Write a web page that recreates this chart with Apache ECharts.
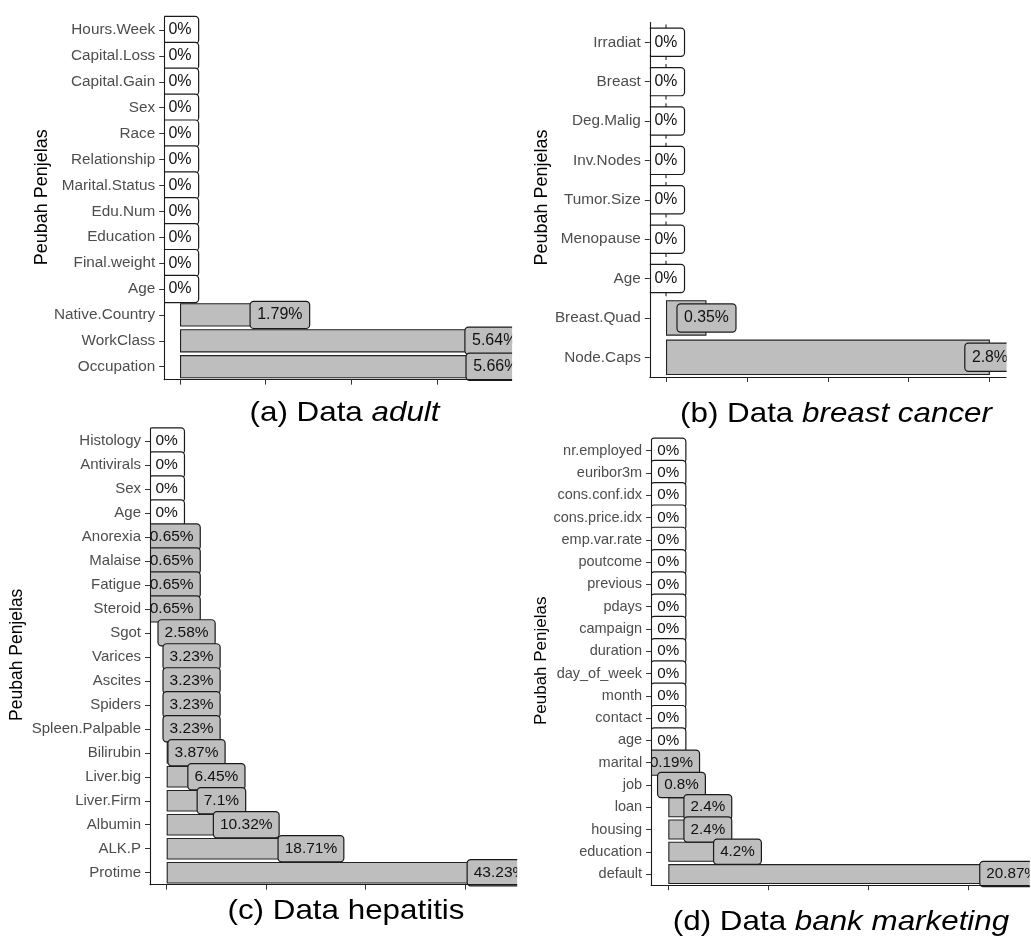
<!DOCTYPE html>
<html>
<head>
<meta charset="utf-8">
<script src="https://cdn.jsdelivr.net/npm/echarts@6/dist/echarts.min.js"></script>
<style>
  html, body { margin: 0; padding: 0; background: #ffffff; }
  #chart { width: 1031px; height: 943px; }
</style>
</head>
<body>
<div id="chart"></div>
<script>
// Missing-value percentages per explanatory variable, listed top to bottom.
const adultVars = ['Hours.Week', 'Capital.Loss', 'Capital.Gain', 'Sex', 'Race', 'Relationship',
  'Marital.Status', 'Edu.Num', 'Education', 'Final.weight', 'Age', 'Native.Country', 'WorkClass', 'Occupation'];
const adultMissing = [0, 0, 0, 0, 0, 0, 0, 0, 0, 0, 0, 1.79, 5.64, 5.66];
const adultTicks = [0, 1.536, 3.071, 4.607];

const breastVars = ['Irradiat', 'Breast', 'Deg.Malig', 'Inv.Nodes', 'Tumor.Size', 'Menopause', 'Age',
  'Breast.Quad', 'Node.Caps'];
const breastMissing = [0, 0, 0, 0, 0, 0, 0, 0.35, 2.8];
const breastTicks = [0, 0.699, 1.399, 2.098, 2.797];

const hepatitisVars = ['Histology', 'Antivirals', 'Sex', 'Age', 'Anorexia', 'Malaise', 'Fatigue', 'Steroid',
  'Sgot', 'Varices', 'Ascites', 'Spiders', 'Spleen.Palpable', 'Bilirubin', 'Liver.big', 'Liver.Firm',
  'Albumin', 'ALK.P', 'Protime'];
const hepatitisMissing = [0, 0, 0, 0, 0.65, 0.65, 0.65, 0.65, 2.58, 3.23, 3.23, 3.23, 3.23, 3.87, 6.45, 7.1,
  10.32, 18.71, 43.23];
const hepatitisTicks = [0, 12.903, 25.806, 38.71];

const bankVars = ['nr.employed', 'euribor3m', 'cons.conf.idx', 'cons.price.idx', 'emp.var.rate', 'poutcome',
  'previous', 'pdays', 'campaign', 'duration', 'day_of_week', 'month', 'contact', 'age', 'marital', 'job',
  'loan', 'housing', 'education', 'default'];
const bankMissing = [0, 0, 0, 0, 0, 0, 0, 0, 0, 0, 0, 0, 0, 0, 0.19, 0.8, 2.4, 2.4, 4.2, 20.87];
const bankTicks = [0, 6.07, 12.14, 18.21];

const FONT = '"Liberation Sans", Arial, Helvetica, sans-serif';
const INK = '#1a1a1a';
const BAR_FILL = '#bebebe';

// Layout of the four panels (grid box in px, fonts, label box padding, clip strips).
const panels = [
  { vars: adultVars, vals: adultMissing, ticks: adultTicks,
    grid: { left: 164.2, top: 17.05, width: 347.4, height: 362.6 },
    tickFont: 15.3, labelFont: 16, lineH: 17, pad: [5, 6.5, 4, 6.5],
    clipY: [0, 392], clipL: 150, clipR: 529,
    title: { x: 41.7, y: 197.3, size: 18 } },
  { vars: breastVars, vals: breastMissing, ticks: breastTicks,
    grid: { left: 649.8, top: 22.6, width: 356.3, height: 354.4 },
    tickFont: 15.3, labelFont: 15.8, lineH: 17, pad: [5, 6.5, 5, 6.5],
    clipY: [0, 392], clipL: 636, clipR: 1031,
    title: { x: 541.7, y: 197.5, size: 18 } },
  { vars: hepatitisVars, vals: hepatitisMissing, ticks: hepatitisTicks,
    grid: { left: 150, top: 429.0, width: 366.7, height: 455.7 },
    tickFont: 15, labelFont: 15.5, lineH: 17, pad: [4, 6, 4, 6],
    clipY: [420, 895], clipL: 138, clipR: 540,
    title: { x: 17.3, y: 654.8, size: 17.5 } },
  { vars: bankVars, vals: bankMissing, ticks: bankTicks,
    grid: { left: 651.1, top: 439.6, width: 378.2, height: 445.6 },
    tickFont: 14.5, labelFont: 15.2, lineH: 16, pad: [4, 6, 4, 6],
    clipY: [420, 895], clipL: 638, clipR: 1031,
    title: { x: 541.7, y: 660.8, size: 17 } }
];

const captions = [
  { text: '(a) Data {i|adult}', x: 344.5, y: 413.5 },
  { text: '(b) Data {i|breast cancer}', x: 836, y: 413.8 },
  { text: '(c) Data hepatitis', x: 346, y: 911 },
  { text: '(d) Data {i|bank marketing}', x: 841, y: 922 }
];

const grids = [], xAxes = [], yAxes = [], series = [], graphics = [];

panels.forEach((p, i) => {
  const top = Math.max(...p.vals);
  grids.push(Object.assign({ containLabel: false, outerBoundsMode: 'none' }, p.grid));

  xAxes.push({
    type: 'value', gridIndex: i, zlevel: 2,
    min: -0.05 * top, max: 1.05 * top,
    axisLine: { show: true, lineStyle: { color: INK, width: 1.1 } },
    axisTick: { show: true, length: 5, customValues: p.ticks, lineStyle: { color: '#333333', width: 1 } },
    axisLabel: { show: false },
    splitLine: { show: false }
  });

  yAxes.push({
    type: 'category', gridIndex: i, zlevel: 2, inverse: true,
    data: p.vars,
    axisLine: { show: true, onZero: false, lineStyle: { color: INK, width: 1.1 } },
    axisTick: { show: true, alignWithLabel: true, length: 5, lineStyle: { color: '#333333', width: 1 } },
    axisLabel: { interval: 0, margin: 9, color: '#4d4d4d', fontSize: p.tickFont, fontFamily: FONT },
    splitLine: { show: false }
  });

  // Bars: one per variable, length = missing percentage
  series.push({
    type: 'bar', xAxisIndex: i, yAxisIndex: i, z: 2,
    data: p.vals, barWidth: '90%', silent: true, animation: false,
    itemStyle: { color: BAR_FILL, borderColor: '#222222', borderWidth: 1.1 }
  });

  // Value labels centred on each bar end
  series.push({
    type: 'scatter', xAxisIndex: i, yAxisIndex: i, z: 5,
    symbolSize: 1, itemStyle: { color: 'rgba(0,0,0,0)', opacity: 1 }, silent: true, animation: false,
    data: p.vals.map((v, k) => ({
      value: [v, k],
      label: { backgroundColor: v === 0 ? '#ffffff' : BAR_FILL }
    })),
    label: {
      show: true, position: 'inside', opacity: 1,
      formatter: (d) => d.value[0] + '%',
      color: '#111111', fontSize: p.labelFont, fontFamily: FONT, lineHeight: p.lineH,
      padding: p.pad, borderColor: '#1a1a1a', borderWidth: 1.2, borderRadius: 3
    }
  });

  // Strips that trim labels running past the panel edges
  const g = p.grid;
  graphics.push({
    type: 'rect', zlevel: 1, silent: true,
    shape: { x: p.clipL, y: p.clipY[0], width: g.left - p.clipL, height: p.clipY[1] - p.clipY[0] },
    style: { fill: '#ffffff' }
  });
  graphics.push({
    type: 'rect', zlevel: 1, silent: true,
    shape: { x: g.left + g.width + 0.5, y: p.clipY[0], width: p.clipR - (g.left + g.width + 0.5), height: p.clipY[1] - p.clipY[0] },
    style: { fill: '#ffffff' }
  });

  // Axis title
  graphics.push({
    type: 'text', x: p.title.x, y: p.title.y, rotation: Math.PI / 2, silent: true, zlevel: 3,
    style: {
      text: 'Peubah Penjelas', fill: '#000000',
      font: p.title.size + 'px ' + FONT,
      textAlign: 'center', textVerticalAlign: 'middle', verticalAlign: 'middle'
    }
  });
});

captions.forEach((c) => {
  graphics.push({
    type: 'text', x: c.x, y: c.y, scaleX: 1.12, silent: true, zlevel: 3,
    style: {
      text: c.text, fill: '#000000',
      font: '28px ' + FONT,
      textAlign: 'center', textVerticalAlign: 'middle', verticalAlign: 'middle',
      rich: {
        i: { fontStyle: 'italic', fontSize: 28, fontFamily: FONT, fill: '#000000' }
      }
    }
  });
});

const chart = echarts.init(document.getElementById('chart'), null, { renderer: 'canvas' });
chart.setOption({
  backgroundColor: '#ffffff',
  animation: false,
  grid: grids,
  xAxis: xAxes,
  yAxis: yAxes,
  series: series,
  graphic: { elements: graphics }
});
</script>
</body>
</html>
